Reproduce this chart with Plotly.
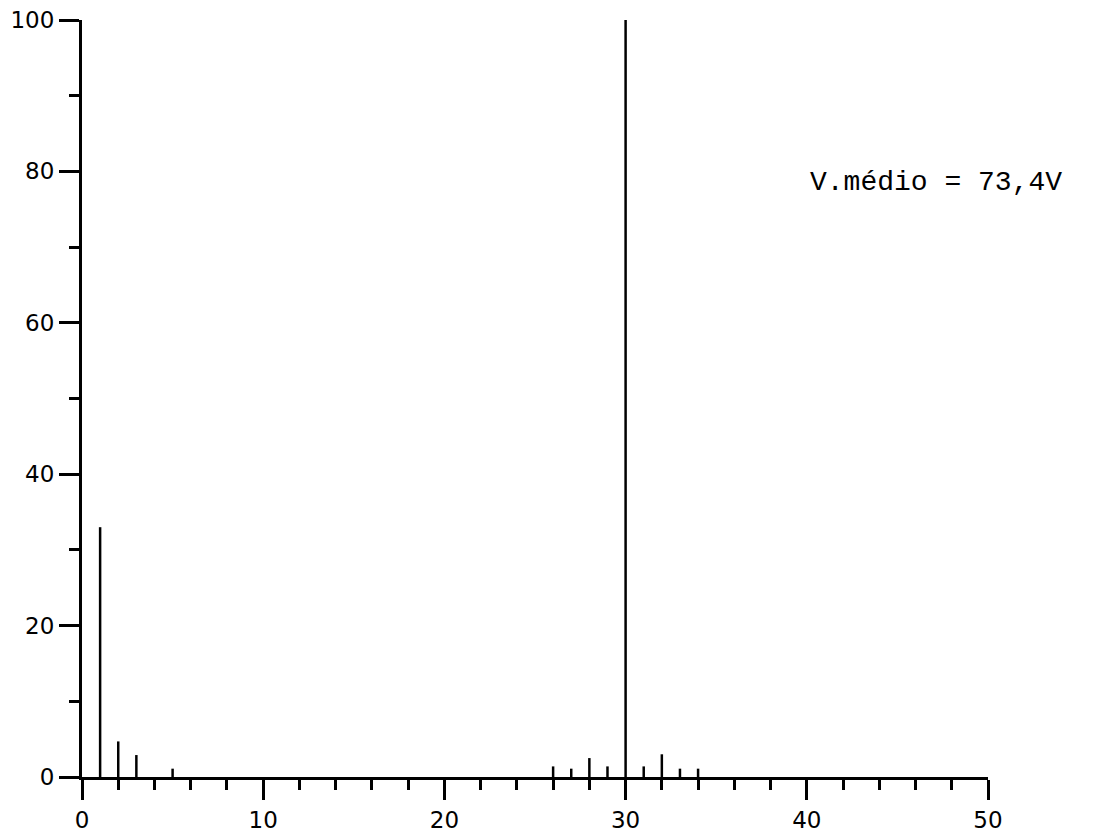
import plotly.graph_objects as go

# Harmonic spectrum (% of fundamental)
harmonics = [1, 2, 3, 5, 26, 27, 28, 29, 30, 31, 32, 33, 34]
amplitudes = [33, 4.7, 2.9, 1.1, 1.4, 1.1, 2.5, 1.4, 100, 1.4, 3.0, 1.1, 1.1]

x_ticks = [0, 10, 20, 30, 40, 50]
y_ticks = [0, 20, 40, 60, 80, 100]
annotation_text = "V.médio = 73,4V"

xs, ys = [], []
for h, a in zip(harmonics, amplitudes):
    xs += [h, h, None]
    ys += [0, a, None]

fig = go.Figure()
fig.add_trace(go.Scatter(x=xs, y=ys, mode="lines",
                         line=dict(color="black", width=2.5),
                         cliponaxis=False, showlegend=False, hoverinfo="skip"))

axis_common = dict(showline=True, linecolor="black", linewidth=3,
                   showgrid=False, zeroline=False, ticks="outside",
                   tickcolor="black", tickwidth=3, ticklen=20, automargin=False,
                   ticklabeloverflow="allow",
                   tickfont=dict(family="DejaVu Sans", size=23, color="black"))

fig.update_xaxes(range=[0, 50], tickvals=x_ticks, ticktext=[str(v) for v in x_ticks],
                 minor=dict(dtick=2, tick0=0, ticklen=10, tickwidth=3,
                            tickcolor="black", ticks="outside"),
                 **axis_common)
fig.update_yaxes(range=[0, 100], tickvals=y_ticks, ticktext=[str(v) for v in y_ticks],
                 minor=dict(dtick=10, tick0=0, ticklen=10, tickwidth=3,
                            tickcolor="black", ticks="outside"),
                 **axis_common)

fig.add_annotation(x=40.05, y=78.6, xref="x", yref="y", text=annotation_text,
                   showarrow=False, xanchor="left", yanchor="middle",
                   font=dict(family="Liberation Mono", size=28, color="black"))

fig.update_layout(width=1085, height=825,
                  margin=dict(l=74, r=105, t=12, b=56),
                  paper_bgcolor="white", plot_bgcolor="white")

fig.write_html("out.html")
